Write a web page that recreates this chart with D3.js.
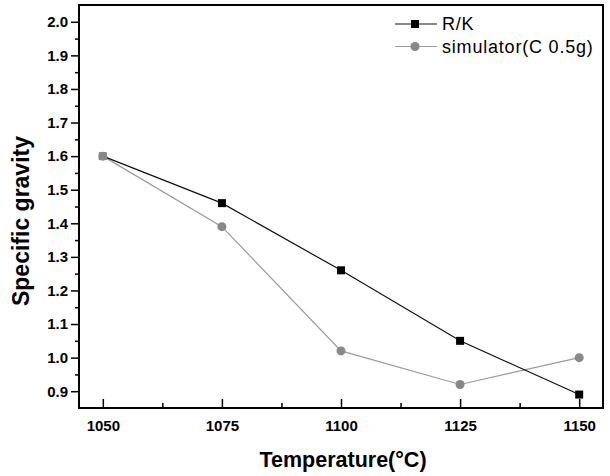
<!DOCTYPE html>
<html>
<head>
    <title>Specific gravity vs Temperature</title>
    <script src="https://d3js.org/d3.v7.min.js"></script>
    <style>
        body { margin: 0; background: #fff; }
        text { font-family: Arial, "Liberation Sans", sans-serif; }
    </style>
</head>
<body>
    <svg width="610" height="476"></svg>
    <script>
        // Data
        const temperatures = [1050, 1075, 1100, 1125, 1150];
        const rkValues = [1.60, 1.46, 1.26, 1.05, 0.89];
        const simValues = [1.60, 1.39, 1.02, 0.92, 1.00];
        const xTicks = [1050, 1075, 1100, 1125, 1150];
        const yTicks = [0.9, 1.0, 1.1, 1.2, 1.3, 1.4, 1.5, 1.6, 1.7, 1.8, 1.9, 2.0];
        const seriesNames = ["R/K", "simulator(C 0.5g)"];

        const margin = {top: 5, right: 7, bottom: 68, left: 79},
              width = 610 - margin.left - margin.right,
              height = 476 - margin.top - margin.bottom;

        const svg = d3.select("svg")
            .append("g")
            .attr("transform", "translate(" + margin.left + "," + margin.top + ")");

        const x = d3.scaleLinear().domain([1045, 1155]).range([0, width]);
        const y = d3.scaleLinear().domain([0.85, 2.05]).range([height, 0]);

        // minor ticks
        const xMinor = xTicks.slice(0, -1).map(d => d + 12.5);
        const yMinor = yTicks.map(d => d + 0.05).filter(d => d < 2.05);

        svg.append("g")
            .attr("transform", "translate(0," + height + ")")
            .call(d3.axisBottom(x).tickValues(xMinor).tickSize(-5).tickFormat(""))
            .call(g => g.select(".domain").remove())
            .selectAll("line").attr("stroke-width", 1.5);

        svg.append("g")
            .call(d3.axisLeft(y).tickValues(yMinor).tickSize(4).tickFormat(""))
            .call(g => g.select(".domain").remove())
            .selectAll("line").attr("stroke-width", 1.5);

        const xAxis = svg.append("g")
            .attr("transform", "translate(0," + height + ")")
            .call(d3.axisBottom(x).tickValues(xTicks).tickSize(-9).tickPadding(12).tickFormat(d3.format("d")));
        xAxis.select(".domain").remove();
        xAxis.selectAll("line").attr("stroke-width", 1.5);
        xAxis.selectAll("text")
            .attr("font-size", "15px").attr("font-weight", "bold")
            .attr("font-family", "Arial, 'Liberation Sans', sans-serif");

        const yAxis = svg.append("g")
            .call(d3.axisLeft(y).tickValues(yTicks).tickSize(8).tickPadding(3).tickFormat(d3.format(".1f")));
        yAxis.select(".domain").remove();
        yAxis.selectAll("line").attr("stroke-width", 1.5);
        yAxis.selectAll("text")
            .attr("font-size", "15px").attr("font-weight", "bold")
            .attr("font-family", "Arial, 'Liberation Sans', sans-serif");

        // frame
        svg.append("rect")
            .attr("width", width).attr("height", height)
            .attr("fill", "none").attr("stroke", "#000").attr("stroke-width", 2);

        // axis labels
        svg.append("text")
            .attr("x", width / 2 + 2)
            .attr("y", height + 59)
            .attr("text-anchor", "middle")
            .attr("font-size", "21.5px").attr("font-weight", "bold")
            .text("Temperature(\u00B0C)");

        svg.append("text")
            .attr("transform", "rotate(-90)")
            .attr("x", -216)
            .attr("y", -50)
            .attr("text-anchor", "middle")
            .attr("font-size", "23px").attr("font-weight", "bold")
            .text("Specific gravity");

        const rk = temperatures.map((t, i) => ({t: t, v: rkValues[i]}));
        const sim = temperatures.map((t, i) => ({t: t, v: simValues[i]}));
        const line = d3.line().x(d => x(d.t)).y(d => y(d.v));

        svg.append("path").datum(sim)
            .attr("d", line).attr("fill", "none")
            .attr("stroke", "#9a9a9a").attr("stroke-width", 1.2);
        svg.append("path").datum(rk)
            .attr("d", line).attr("fill", "none")
            .attr("stroke", "#111").attr("stroke-width", 1.2);

        svg.selectAll(".sim").data(sim).enter().append("circle")
            .attr("class", "sim")
            .attr("cx", d => x(d.t)).attr("cy", d => y(d.v))
            .attr("r", 4.5).attr("fill", "#888");

        // where both series coincide, the marker shows grey
        svg.selectAll(".rk").data(rk).enter().append("rect")
            .attr("class", "rk")
            .attr("x", d => x(d.t) - 4).attr("y", d => y(d.v) - 4)
            .attr("width", 8).attr("height", 8)
            .attr("fill", (d, i) => d.v === simValues[i] ? "#888" : "#000");

        // legend
        const legend = svg.selectAll(".legend")
            .data(seriesNames)
            .enter().append("g")
            .attr("class", "legend")
            .attr("transform", (d, i) => "translate(" + (395 - margin.left) + "," + (19 + i * 22.5) + ")");

        legend.append("line")
            .attr("x1", 0).attr("x2", 42)
            .attr("stroke", (d, i) => i === 0 ? "#111" : "#9a9a9a")
            .attr("stroke-width", 1.2);

        legend.each(function(d, i) {
            const g = d3.select(this);
            if (i === 0) {
                g.append("rect").attr("x", 16).attr("y", -4).attr("width", 8).attr("height", 8).attr("fill", "#000");
            } else {
                g.append("circle").attr("cx", 20).attr("r", 4.5).attr("fill", "#888");
            }
        });

        legend.append("text")
            .attr("x", 47)
            .attr("dy", "0.35em")
            .attr("font-size", "18px")
            .attr("letter-spacing", "0.8px")
            .text(d => d);
    </script>
</body>
</html>
